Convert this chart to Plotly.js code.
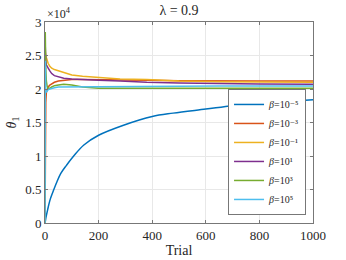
<!DOCTYPE html>
<html>
<head>
<meta charset="utf-8">
<script src="https://cdn.plot.ly/plotly-3.0.1.min.js"></script>
<style>html,body{margin:0;padding:0;background:#fff;}#chart{width:346px;height:260px;}</style>
</head>
<body>
<div id="chart"></div>
<script>
// Trials for the slowly-rising series (beta = 1e-5)
const trialsSlow = [0, 1, 3, 5, 10, 14, 20, 33, 45, 59, 80, 107, 145, 200, 293, 400, 478, 600, 700, 804, 900, 1000];
const betaE_5 = [0, 200, 700, 1100, 2000, 2700, 3600, 5000, 6200, 7400, 8600, 10000, 11650, 13100, 14600, 15900, 16400, 17000, 17500, 17900, 18150, 18400];

// Trials for the fast-converging series
const trials = [0, 1, 2, 3, 5, 8, 12, 18, 25, 35, 50, 70, 100, 140, 200, 280, 380, 500, 650, 800, 1000];
const betaE_3 = [0, 9000, 15000, 18000, 19500, 20000, 20300, 20600, 20800, 21000, 21200, 21300, 21400, 21400, 21350, 21300, 21300, 21250, 21200, 21200, 21200];
const betaE_1 = [0, 25500, 25200, 25000, 24700, 24200, 23800, 23400, 23100, 22900, 22700, 22400, 22100, 21900, 21700, 21500, 21400, 21200, 21100, 21100, 21000];
const betaE1  = [0, 26300, 25000, 24200, 23600, 23300, 23100, 22700, 22300, 22000, 21800, 21600, 21500, 21400, 21300, 21200, 21000, 20900, 20800, 20750, 20700];
const betaE3  = [0, 28500, 25000, 23000, 21200, 20400, 20100, 20100, 20300, 20500, 20600, 20700, 20600, 20300, 20100, 20100, 20100, 20050, 20100, 20100, 20100];
const betaE5  = [0, 24200, 21000, 19700, 19500, 19700, 19900, 20000, 20100, 20200, 20300, 20300, 20300, 20300, 20300, 20300, 20400, 20400, 20450, 20450, 20450];

const seriesNames = ['<i>β</i>=10⁻⁵', '<i>β</i>=10⁻³', '<i>β</i>=10⁻¹', '<i>β</i>=10¹', '<i>β</i>=10³', '<i>β</i>=10⁵'];
const colors = ['#0072BD', '#D95319', '#EDB120', '#7E2F8E', '#77AC30', '#4DBEEE'];

const xTickVals = [0, 200, 400, 600, 800, 1000];
const yTickVals = [0, 5000, 10000, 15000, 20000, 25000, 30000];
const yTickText = ['0', '0.5', '1', '1.5', '2', '2.5', '3'];

const ys = [betaE_5, betaE_3, betaE_1, betaE1, betaE3, betaE5];
const traces = ys.map((y, i) => ({
  x: i === 0 ? trialsSlow : trials,
  y: y,
  type: 'scatter',
  mode: 'lines',
  name: seriesNames[i],
  line: i === 0 ? {color: colors[i], width: 1.5, shape: 'spline', smoothing: 1} : {color: colors[i], width: 1.5}
}));

const serif = 'Liberation Serif, DejaVu Serif, serif';
const ink = '#262626';
const axisCommon = {
  showline: true, linecolor: '#777', linewidth: 1, mirror: 'ticks',
  ticks: 'inside', ticklen: 3, tickcolor: '#777',
  showgrid: true, gridcolor: '#e8e8e8', gridwidth: 1,
  zeroline: false,
  tickfont: {family: serif, size: 13, color: ink}
};

const layout = {
  width: 346, height: 260,
  margin: {l: 45, r: 33, t: 22, b: 37},
  paper_bgcolor: '#fff', plot_bgcolor: '#fff',
  font: {family: serif, color: ink},
  showlegend: true,
  title: {text: 'λ = 0.9', font: {family: serif, size: 14, color: ink},
          x: 0.5, xref: 'paper', xanchor: 'center', y: 1 - 10/260, yref: 'container', yanchor: 'middle'},
  xaxis: Object.assign({}, axisCommon, {
    range: [0, 1000], tickvals: xTickVals,
    title: {text: 'Trial', font: {family: serif, size: 14, color: ink}, standoff: 3}
  }),
  yaxis: Object.assign({}, axisCommon, {
    range: [0, 30000], tickvals: yTickVals, ticktext: yTickText,
    title: {text: '<i>θ</i><sub>1</sub>', font: {family: serif, size: 14, color: ink}, standoff: 5}
  }),
  legend: {
    x: 0.974, xanchor: 'right', y: 0.04, yanchor: 'bottom',
    bgcolor: '#fff', bordercolor: '#777', borderwidth: 1,
    font: {family: serif, size: 10, color: ink},
    tracegroupgap: 0, itemwidth: 30
  },
  annotations: [{
    text: '×10<sup>4</sup>', xref: 'paper', yref: 'paper', x: 0, y: 1 + 9/201,
    xanchor: 'left', yanchor: 'middle', showarrow: false,
    font: {family: serif, size: 12, color: ink}
  }]
};

Plotly.newPlot('chart', traces, layout, {displayModeBar: false, staticPlot: true});
</script>
</body>
</html>
